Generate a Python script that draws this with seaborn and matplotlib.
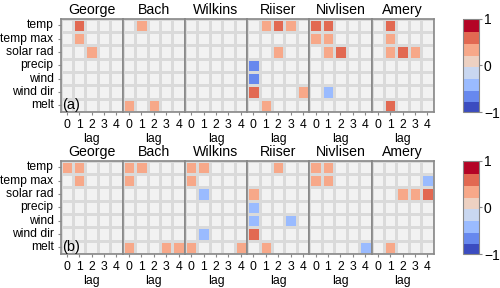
import numpy as np
import matplotlib
matplotlib.use("Agg")
import matplotlib.pyplot as plt
from matplotlib.colors import ListedColormap
import seaborn as sns

plt.rcParams['font.family'] = ['Liberation Sans', 'DejaVu Sans']

variables = ["temp", "temp max", "solar rad", "precip", "wind", "wind dir", "melt"]
lags = [0, 1, 2, 3, 4]
stations = ["George", "Bach", "Wilkins", "Riiser", "Nivlisen", "Amery"]
panel_labels = ["(a)", "(b)"]

# values (0 = not significant)
a_george = [[0, .6, 0, 0, 0], [0, .4, 0, 0, 0], [0, 0, .4, 0, 0], [0]*5, [0]*5, [0]*5, [0]*5]
a_bach = [[0, .4, 0, 0, 0], [0]*5, [0]*5, [0]*5, [0]*5, [0]*5, [.4, 0, .4, 0, 0]]
a_wilkins = [[0]*5, [0]*5, [0]*5, [0]*5, [0]*5, [0]*5, [0]*5]
a_riiser = [[0, .4, .6, .4, 0], [0]*5, [0, 0, .4, 0, 0], [-.6, 0, 0, 0, 0],
            [-.6, 0, 0, 0, 0], [.6, 0, 0, 0, .4], [0, .4, 0, 0, 0]]
a_nivlisen = [[.6, .6, 0, 0, 0], [.4, .4, 0, 0, 0], [0, .4, .6, 0, 0], [0]*5, [0]*5,
              [0, -.4, 0, 0, 0], [0]*5]
a_amery = [[0, .6, 0, 0, 0], [0, .4, 0, 0, 0], [0, .4, .6, .4, 0], [0]*5, [0]*5, [0]*5,
           [0, .6, 0, 0, 0]]

b_george = [[.4, .4, 0, 0, 0], [0, .4, 0, 0, 0], [0]*5, [0]*5, [0]*5, [0]*5, [0]*5]
b_bach = [[.4, .4, 0, 0, 0], [.4, 0, 0, 0, 0], [0]*5, [0]*5, [0]*5, [0]*5, [.4, 0, 0, .4, .4]]
b_wilkins = [[.4, .4, 0, 0, 0], [.4, 0, 0, 0, 0], [0, -.4, 0, 0, 0], [0]*5, [0]*5,
             [0, -.4, 0, 0, 0], [.4, 0, 0, 0, .4]]
b_riiser = [[0, 0, .4, 0, 0], [0]*5, [.4, 0, 0, 0, 0], [-.4, 0, 0, 0, 0],
            [-.4, 0, 0, -.4, 0], [.6, 0, 0, 0, 0], [0, .4, 0, 0, 0]]
b_nivlisen = [[.4, .4, 0, 0, 0], [.4, .4, 0, 0, 0], [0]*5, [0]*5, [0]*5, [0]*5, [0, 0, 0, 0, -.4]]
b_amery = [[0]*5, [0, 0, 0, 0, -.4], [0, 0, .4, .4, .6], [0]*5, [0]*5, [0]*5, [0, .4, 0, 0, 0]]

rows = [
    [a_george, a_bach, a_wilkins, a_riiser, a_nivlisen, a_amery],
    [b_george, b_bach, b_wilkins, b_riiser, b_nivlisen, b_amery],
]

cmap = ListedColormap(plt.get_cmap("coolwarm")(np.linspace(0, 1, 8)))
base_cmap = ListedColormap(["#f2f2f2"])
grid_c = "#dadada"
spine_c = "#888888"

W, H = 500, 288
fig = plt.figure(figsize=(W / 100, H / 100), dpi=100)

x0 = 60.5
pw = 62.2
row_top = [18.5, 160.5]
ph = 93.5

for r, row in enumerate(rows):
    cax = fig.add_axes([463 / W, 1 - (row_top[r] + ph) / H, 16 / W, ph / H])
    cb = None
    for c, vals in enumerate(row):
        ax = fig.add_axes([(x0 + c * pw) / W, 1 - (row_top[r] + ph) / H, pw / W, ph / H])
        arr = np.array(vals, dtype=float)
        sns.heatmap(np.zeros_like(arr), cmap=base_cmap, cbar=False, linewidths=1,
                    linecolor=grid_c, ax=ax, vmin=-1, vmax=1)
        sns.heatmap(arr, mask=(arr == 0), cmap=cmap, vmin=-1, vmax=1, linewidths=1,
                    linecolor=grid_c, ax=ax, cbar=(c == 0), cbar_ax=cax if c == 0 else None,
                    cbar_kws={"ticks": [-1, 0, 1]} if c == 0 else None)
        if c == 0:
            cb = ax.collections[-1].colorbar
        ax.set_xticks(np.arange(5) + 0.5)
        ax.set_xticklabels([str(l) for l in lags], rotation=0, fontsize=8.8)
        ax.set_xlabel("lag", fontsize=8.8, labelpad=1.5)
        if c == 0:
            ax.set_yticks(np.arange(7) + 0.5)
            ax.set_yticklabels(variables, rotation=0, fontsize=8.7)
            ax.text(0.12, 6.5, panel_labels[r], fontsize=10.5, va="center", ha="left")
        else:
            ax.set_yticks([])
            ax.set_ylabel("")
        ax.tick_params(axis="both", length=2.5, width=0.8, color=spine_c, pad=2.5)
        ax.set_title(stations[c], fontsize=10.2, pad=3)
        for s in ax.spines.values():
            s.set_visible(True)
            s.set_color(spine_c)
            s.set_linewidth(1.2)
    cax.set_yticklabels(["\u22121", "0", "1"], fontsize=10)
    cax.tick_params(length=2.5, width=0.8, color=spine_c, pad=1)
    if cb is not None:
        cb.outline.set_edgecolor(spine_c)
        cb.outline.set_linewidth(0.8)
        if cb.solids is not None:
            cb.solids.set_edgecolor("face")

fig.savefig("out.png", dpi=100)
